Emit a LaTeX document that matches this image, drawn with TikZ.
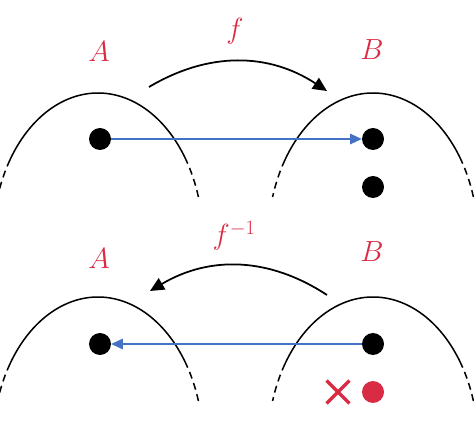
\documentclass[tikz,border=0pt]{standalone}
\usepackage{amsmath}
\usepackage{tikz}
\usetikzlibrary{arrows.meta,positioning,shapes.misc}
\definecolor{mapred}{RGB}{218,43,68}
\definecolor{mapblue}{RGB}{68,114,196}

\begin{document}
\begin{tikzpicture}[
    x=0.03cm, y=0.03cm,
    dot/.style={circle, fill=black, inner sep=0pt, minimum size=0.66cm},
    setlbl/.style={text=mapred, inner sep=0pt, font=\fontsize{23}{27}\selectfont},
    setline/.style={line width=1.3pt},
    setdash/.style={line width=1.3pt, dash pattern=on 6pt off 4pt},
    mapto/.style={draw=mapblue, line width=1.3pt, -{Triangle[length=10pt, width=9pt]}},
    bendto/.style={line width=1.5pt, -{Triangle[length=12pt, width=11pt]}}
]
\useasboundingbox (0,0) rectangle (474,-432);

% sets (upper parts of ellipses, dashed at the ends)
\foreach \cx/\cy in {98/-240, 373/-240, 98/-444, 373/-444}{
  \draw[setline] (\cx,\cy) ++(33:105 and 147) arc[start angle=33, end angle=147, x radius=105, y radius=147];
  \draw[setdash] (\cx,\cy) ++(17:105 and 147) arc[start angle=17, end angle=33, x radius=105, y radius=147];
  \draw[setdash] (\cx,\cy) ++(147:105 and 147) arc[start angle=147, end angle=163, x radius=105, y radius=147];
}

% f
\node[setlbl] (la1) at (99,-52) {$A$};
\node[setlbl] (lb1) at (372,-50) {$B$};
\node[setlbl] (lf) at (235,-31) {$f$};
\node[dot] (a1) at (100,-139) {};
\node[dot] (b1) at (373,-139) {};
\node[dot] (b1x) at (373,-187) {};
\coordinate (fs) at (149,-87);
\coordinate (fe) at (327,-91);
\draw[bendto] (fs) to[bend left=32] (fe);
\draw[mapto] (a1) -- (b1);

% f^{-1}
\node[setlbl] (la2) at (99,-259) {$A$};
\node[setlbl] (lb2) at (372,-252) {$B$};
\node[setlbl] (lg) at (234,-236) {$f^{-1}$};
\node[dot] (a2) at (100,-344) {};
\node[dot] (b2) at (373,-344) {};
\node[dot, fill=mapred] (b2x) at (373,-392) {};
\node[cross out, draw=mapred, line width=3pt, inner sep=0pt, minimum size=0.58cm] (no) at (338,-392) {};
\coordinate (gs) at (327,-295);
\coordinate (ge) at (150,-291);
\draw[bendto] (gs) to[bend right=32] (ge);
\draw[mapto] (b2) -- (a2);
\end{tikzpicture}
\end{document}
